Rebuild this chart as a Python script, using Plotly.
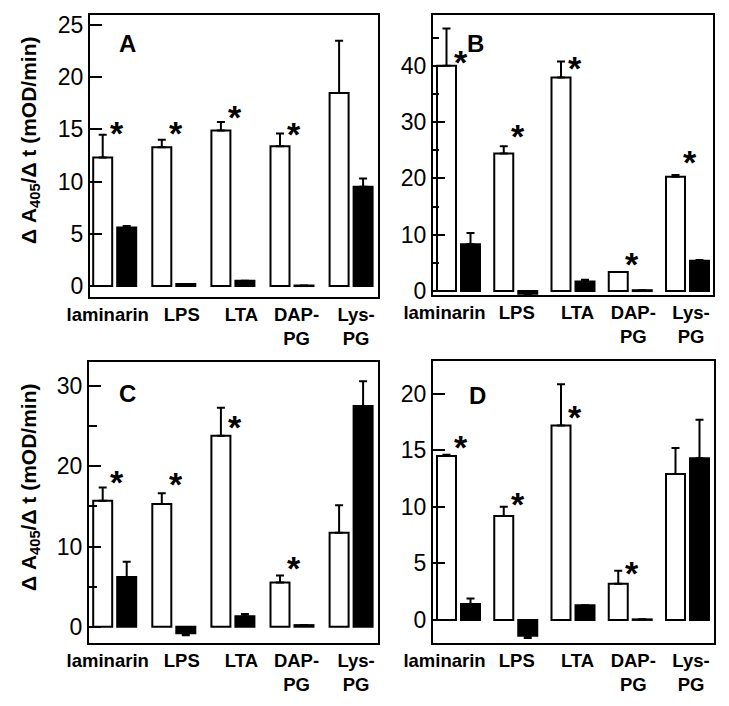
import plotly.graph_objects as go

# ---------------- data ----------------
categories = ["laminarin", "LPS", "LTA", "DAP-<br>PG", "Lys-<br>PG"]

A_white = [12.3, 13.3, 14.9, 13.4, 18.5]
A_white_err = [2.2, 0.7, 0.8, 1.2, 5.0]
A_black = [5.6, 0.2, 0.5, 0.05, 9.5]
A_black_err = [0.15, 0.0, 0.0, 0.0, 0.8]
A_star = [15.3, 15.3, 16.9, 15.2, None]

B_white = [40.0, 24.4, 37.9, 3.4, 20.3]
B_white_err = [6.6, 1.3, 2.85, 0.0, 0.3]
B_black = [8.3, -0.5, 1.7, 0.15, 5.4]
B_black_err = [2.0, 0.2, 0.3, 0.0, 0.1]
B_star = [41.9, 28.7, 40.8, 6.1, 24.1]

C_white = [15.7, 15.3, 23.8, 5.5, 11.7]
C_white_err = [1.65, 1.35, 3.5, 0.9, 3.45]
C_black = [6.2, -0.8, 1.3, 0.2, 27.5]
C_black_err = [1.9, 0.25, 0.3, 0.0, 3.1]
C_star = [18.9, 18.7, 25.8, 8.2, None]

D_white = [14.5, 9.2, 17.2, 3.2, 12.9]
D_white_err = [0.1, 0.8, 3.65, 1.15, 2.3]
D_black = [1.4, -1.4, 1.3, 0.05, 14.3]
D_black_err = [0.5, 0.2, 0.0, 0.0, 3.4]
D_star = [15.9, 10.9, 18.6, 4.8, None]

y_title = "<b>Δ A<sub>405</sub>/Δ t (mOD/min)</b>"

# ---------------- layout geometry (pixels) ----------------
W, H = 729, 706
FONT = "Liberation Sans, Arial, sans-serif"

panels = [
    dict(name="A", white=A_white, werr=A_white_err, black=A_black, berr=A_black_err, star=A_star,
         px=(90, 378), py=(15, 297), yr=(-1.05, 25.96), dtick=5, minor=None,
         c0=114.7, sp=59.1, lshift=[-7, 8, 8.5, 4.5, 5], letter=(128, 44)),
    dict(name="B", white=B_white, werr=B_white_err, black=B_black, berr=B_black_err, star=B_star,
         px=(433, 713), py=(15, 295), yr=(-0.7, 49.0), dtick=10, minor=(5, 6),
         c0=458.5, sp=57.25, lshift=[-14, 1, 4.5, 3, 3.5], letter=(476, 44)),
    dict(name="C", white=C_white, werr=C_white_err, black=C_black, berr=C_black_err, star=C_star,
         px=(89, 378), py=(362, 643), yr=(-2.03, 33.0), dtick=10, minor=(5, 8),
         c0=114.7, sp=59.1, lshift=[-7, 8, 8.5, 4.5, 5], letter=(128, 393)),
    dict(name="D", white=D_white, werr=D_white_err, black=D_black, berr=D_black_err, star=D_star,
         px=(433, 714), py=(361, 643), yr=(-2.04, 22.9), dtick=5, minor=None,
         c0=458.5, sp=57.25, lshift=[-14, 1, 4.5, 3, 3.5], letter=(477, 395)),
]

fig = go.Figure()
annotations = []
idx = list(range(len(categories)))

for k, p in enumerate(panels):
    ax = "" if k == 0 else str(k + 1)
    xref, yref = "x" + ax, "y" + ax
    sp = p["sp"]
    xr = ((p["px"][0] - p["c0"]) / sp, (p["px"][1] - p["c0"]) / sp)
    bw = 19 / sp
    for vals, errs, color, cpx in ((p["white"], p["werr"], "white", -12),
                                   (p["black"], p["berr"], "black", 12)):
        up = [e if v >= 0 else 0 for v, e in zip(vals, errs)]
        dn = [0 if v >= 0 else e for v, e in zip(vals, errs)]
        fig.add_trace(go.Bar(
            x=idx, y=vals, xaxis=xref, yaxis=yref,
            width=bw, offset=cpx / sp - bw / 2,
            marker=dict(color=color, line=dict(color="black", width=2)),
            error_y=dict(type="data", array=up, arrayminus=dn, symmetric=False,
                         color="black", thickness=2, width=4),
            showlegend=False, hoverinfo="skip",
        ))
    # significance stars
    for i, s in enumerate(p["star"]):
        if s is None:
            continue
        annotations.append(dict(
            x=i, y=s, xref=xref, yref=yref, text="<b>*</b>", showarrow=False,
            xanchor="center", yanchor="middle", xshift=2, yshift=-7,
            font=dict(family=FONT, size=34, color="black")))
    # panel letter
    lx, ly = p["letter"]
    annotations.append(dict(
        x=lx / W, y=1 - ly / H, xref="paper", yref="paper", text="<b>%s</b>" % p["name"],
        showarrow=False, xanchor="center", yanchor="middle",
        font=dict(family=FONT, size=24, color="black")))

    yaxis = dict(
        domain=[1 - p["py"][1] / H, 1 - p["py"][0] / H], anchor=xref, automargin=False,
        range=list(p["yr"]), dtick=p["dtick"], tick0=0,
        ticks="inside", ticklen=12, tickwidth=2, tickcolor="black",
        showline=True, linewidth=2, linecolor="black", mirror=True,
        showgrid=False, zeroline=False,
        tickfont=dict(family=FONT, size=23, color="black"),
    )
    if p["minor"]:
        yaxis["minor"] = dict(dtick=p["minor"][0], tick0=0, ticks="inside",
                              ticklen=p["minor"][1], tickwidth=2, tickcolor="black")
    tickvals = [i + p["lshift"][i] / sp for i in idx]
    xaxis = dict(
        domain=[p["px"][0] / W, p["px"][1] / W], anchor=yref, automargin=False,
        range=list(xr), tickmode="array", tickvals=tickvals, ticktext=categories,
        ticks="", showline=True, linewidth=2, linecolor="black", mirror=True,
        showgrid=False, zeroline=False,
        tickfont=dict(family=FONT, size=18.5, color="black", weight="bold"),
    )
    fig.layout["xaxis" + ax] = xaxis
    fig.layout["yaxis" + ax] = yaxis

# y-axis titles (left column)
for cy in (140, 487):
    annotations.append(dict(
        x=30 / W, y=1 - cy / H, xref="paper", yref="paper", text=y_title,
        textangle=-90, showarrow=False, xanchor="center", yanchor="middle",
        font=dict(family=FONT, size=21, color="black")))

fig.update_layout(
    template="none",
    width=W, height=H, margin=dict(l=0, r=0, t=0, b=0),
    paper_bgcolor="white", plot_bgcolor="white",
    barmode="overlay", annotations=annotations,
    font=dict(family=FONT, color="black"),
)

fig.write_html("out.html", config={"displayModeBar": False},
               post_script="document.body.style.margin='0';")
